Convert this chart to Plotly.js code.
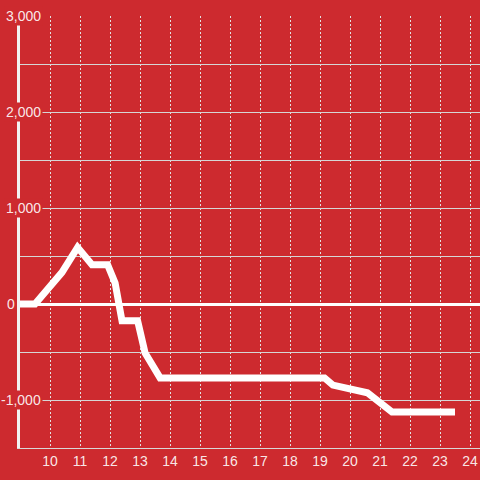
<!DOCTYPE html>
<html>
<head>
<meta charset="utf-8">
<script src="https://cdn.plot.ly/plotly-3.0.1.min.js"></script>
<style>html,body{margin:0;padding:0;background:#cd2a2f;}#chart{width:480px;height:480px;}</style>
</head>
<body>
<div id="chart"></div>
<script>
// Data
const xValues = [9.0, 9.5, 10.4, 10.92, 11.4, 11.92, 12.17, 12.4, 12.92, 13.17, 13.67, 19.15, 19.43, 20.4, 20.58, 21.4, 23.5];
const yValues = [0, 0, 330, 590, 410, 410, 220, -175, -175, -510, -770, -770, -845, -905, -925, -1125, -1125];
const xTickVals = [10, 11, 12, 13, 14, 15, 16, 17, 18, 19, 20, 21, 22, 23, 24];
const yLabelVals = [3000, 2000, 1000, 0, -1000];
const yLabelText = ['3,000', '2,000', '1,000', '0', '-1,000'];

const bg = '#cd2a2f';
const labelColor = 'rgba(255,255,255,0.9)';
const fontFamily = 'Liberation Sans, Arial, sans-serif';

const annotations = yLabelVals.map((v, i) => {
  const isZero = v === 0;
  return {
    xref: 'paper', yref: 'y',
    x: isZero ? -0.0185 : 0.05, y: v,
    xanchor: isZero ? 'center' : 'right', yanchor: 'middle',
    text: yLabelText[i],
    showarrow: false,
    bgcolor: isZero ? 'rgba(0,0,0,0)' : bg,
    borderpad: 1,
    font: {family: fontFamily, size: 14, color: labelColor}
  };
});

const trace = {
  x: xValues, y: yValues,
  type: 'scatter', mode: 'lines',
  line: {color: '#ffffff', width: 7},
  hoverinfo: 'skip'
};

const layout = {
  width: 480, height: 480,
  margin: {l: 20, r: 0, t: 16, b: 32, pad: 0},
  paper_bgcolor: bg, plot_bgcolor: bg,
  showlegend: false,
  font: {family: fontFamily, size: 14, color: labelColor},
  xaxis: {
    range: [9, 24.333],
    tickvals: xTickVals,
    ticktext: xTickVals.map(String),
    showgrid: true, gridcolor: '#e2e2e2', gridwidth: 1, griddash: '2px,2px',
    zeroline: false,
    showline: true, linecolor: '#d8d8d8', linewidth: 1,
    ticks: '', ticklen: 0,
    tickfont: {size: 14, color: labelColor}
  },
  yaxis: {
    range: [-1500, 3000],
    dtick: 500, tick0: 0,
    showticklabels: false,
    showgrid: true, gridcolor: '#d6d6d6', gridwidth: 1,
    zeroline: true, zerolinecolor: '#ffffff', zerolinewidth: 3,
    showline: true, linecolor: '#f2f2f2', linewidth: 3,
    ticks: ''
  },
  annotations: annotations
};

Plotly.newPlot('chart', [trace], layout, {staticPlot: true, displayModeBar: false});
</script>
</body>
</html>
